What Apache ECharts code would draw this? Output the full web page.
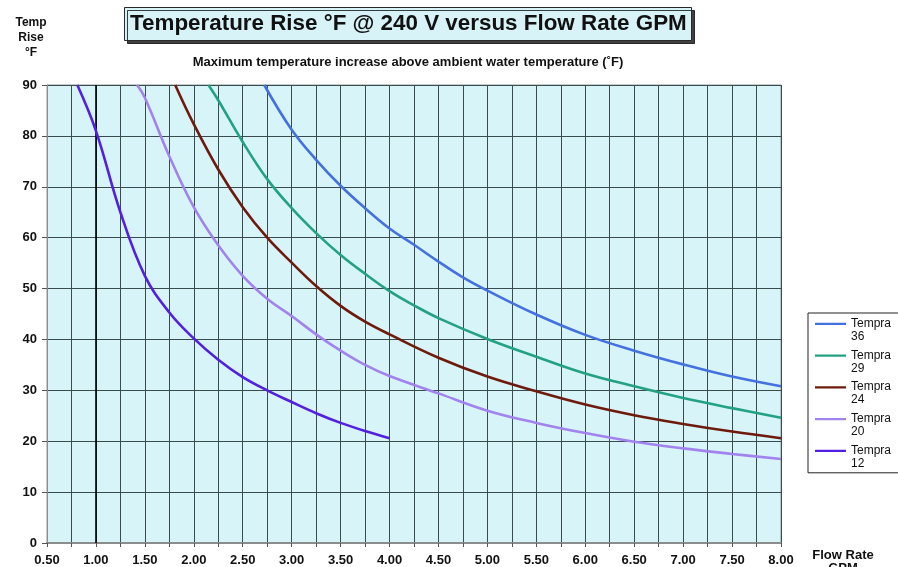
<!DOCTYPE html>
<html><head><meta charset="utf-8">
<script src="https://cdn.jsdelivr.net/npm/echarts@6/dist/echarts.min.js"></script>
<style>html,body{margin:0;padding:0;background:#fff}#c{width:898px;height:567px}</style>
</head><body><div id="c"></div>
<script>
// ---- data ----
const titleText = 'Temperature Rise °F @ 240 V versus Flow Rate GPM';
const subtitleText = 'Maximum temperature increase above ambient water temperature (˚F)';
const seriesNames = ['Tempra 36', 'Tempra 29', 'Tempra 24', 'Tempra 20', 'Tempra 12'];

const flow36 = [2.72, 3.0, 3.25, 3.5, 3.75, 4.0, 4.25, 4.5, 4.75, 5.0, 5.5, 6.0, 6.5, 7.0, 7.5, 8.0];
const rise36 = [90, 81.2, 75.3, 70.2, 65.8, 61.8, 58.6, 55.3, 52.2, 49.6, 44.9, 40.9, 37.8, 35.1, 32.7, 30.8];

const flow29 = [2.15, 2.25, 2.5, 2.75, 3.0, 3.25, 3.5, 3.75, 4.0, 4.25, 4.5, 5.0, 5.5, 6.0, 6.5, 7.0, 7.5, 8.0];
const rise29 = [90, 87, 78.8, 71.5, 65.8, 60.9, 56.6, 52.9, 49.5, 46.7, 44.2, 40.1, 36.6, 33.3, 30.8, 28.5, 26.5, 24.6];

const flow24 = [1.81, 2.0, 2.25, 2.5, 2.75, 3.0, 3.25, 3.5, 3.75, 4.0, 4.5, 5.0, 5.5, 6.0, 6.5, 7.0, 7.5, 8.0];
const rise24 = [90, 82.3, 73.4, 66, 60, 55.1, 50.5, 46.6, 43.5, 41, 36.4, 32.7, 29.8, 27.2, 25.1, 23.4, 21.9, 20.6];

const flow20 = [1.42, 1.5, 1.75, 2.0, 2.25, 2.5, 2.75, 3.0, 3.25, 3.5, 3.75, 4.0, 4.5, 5.0, 5.5, 6.0, 6.5, 7.0, 7.5, 8.0];
const rise20 = [90, 87.5, 76, 66, 58.5, 52.5, 48, 44.6, 41, 37.8, 35, 32.8, 29.4, 26, 23.6, 21.6, 19.9, 18.6, 17.5, 16.5];

const flow12 = [0.81, 1.0, 1.25, 1.5, 1.75, 2.0, 2.25, 2.5, 2.75, 3.0, 3.25, 3.5, 3.75, 4.0];
const rise12 = [90, 81, 65, 52.5, 45.3, 40.2, 36, 32.6, 30, 27.7, 25.5, 23.6, 22, 20.6];

const seriesColors = ['#4471e0', '#23a283', '#6e1a0c', '#a283ee', '#5320e2'];

// ---- chart ----
const FONT = '"Liberation Sans", Arial, sans-serif';
const pairs = (xs, ys) => xs.map((x, i) => [x, ys[i]]);
const allData = [pairs(flow36, rise36), pairs(flow29, rise29), pairs(flow24, rise24), pairs(flow20, rise20), pairs(flow12, rise12)];

const legendIcon = 'path://M0,0h0.01v0.01h-0.01zM0,5.4h33v2.4h-33zM32.99,25.99h0.01v0.01h-0.01z';

const chart = echarts.init(document.getElementById('c'), null, {renderer: 'canvas'});
const series = seriesNames.map((name, i) => ({
  name: name,
  type: 'line',
  data: allData[i],
  smooth: 0.4,
  showSymbol: false,
  symbol: 'none',
  clip: true,
  lineStyle: {color: seriesColors[i], width: 2.6},
  itemStyle: {color: seriesColors[i]},
  z: 5
}));
series[0].markLine = {
  silent: true, symbol: 'none', label: {show: false}, animation: false,
  lineStyle: {color: '#000', width: 1.6, type: 'solid'},
  data: [{xAxis: 1}]
};

chart.setOption({
  animation: false,
  backgroundColor: '#ffffff',
  textStyle: {fontFamily: FONT},
  title: [{
    text: titleText,
    left: 124, top: 7,
    padding: [6, 5, 6, 6],
    backgroundColor: '#d7f3f7',
    borderColor: '#2a2a2a', borderWidth: 1,
    shadowColor: 'rgba(0,0,0,0.75)', shadowOffsetX: 3, shadowOffsetY: 3, shadowBlur: 0,
    textStyle: {fontFamily: FONT, fontSize: 22.4, fontWeight: 'bold', color: '#111'}
  }],
  graphic: [
    {type: 'text', x: 408, y: 62, style: {text: subtitleText, font: 'bold 13px ' + FONT, fill: '#111', align: 'center', verticalAlign: 'middle'}},
    {type: 'text', x: 31, y: 38, style: {text: 'Temp\nRise\n°F', font: 'bold 12px ' + FONT, lineHeight: 15, fill: '#111', align: 'center', verticalAlign: 'middle'}},
    {type: 'text', x: 843, y: 562, style: {text: 'Flow Rate\nGPM', font: 'bold 13px ' + FONT, lineHeight: 13, fill: '#111', align: 'center', verticalAlign: 'middle'}}
  ],
  legend: {
    orient: 'vertical',
    left: 808, top: 313,
    padding: [4, 40, 3, 7],
    itemGap: 5.7,
    itemWidth: 31, itemHeight: 26,
    icon: legendIcon,
    itemStyle: {borderWidth: 0},
    backgroundColor: '#fff',
    borderColor: '#222', borderWidth: 1,
    data: seriesNames,
    formatter: n => n.replace(' ', '\n'),
    textStyle: {fontFamily: FONT, fontSize: 12, lineHeight: 13, color: '#111'}
  },
  grid: {left: 47, right: 117, top: 85, bottom: 24, show: true, backgroundColor: '#d7f4f8', borderColor: '#8a9a9a', borderWidth: 1},
  xAxis: {
    type: 'value', min: 0.5, max: 8, interval: 0.25,
    axisLine: {show: true, onZero: false, lineStyle: {color: '#8c8c8c', width: 2}},
    axisTick: {show: true, length: 4, lineStyle: {color: '#555'}},
    splitLine: {show: true, lineStyle: {color: '#3a4b4e', width: 1}},
    axisLabel: {
      margin: 11, fontSize: 13, fontWeight: 'bold', color: '#111', fontFamily: FONT,
      formatter: v => (Math.round(v * 100) % 50 === 0 ? v.toFixed(2) : '')
    }
  },
  yAxis: {
    type: 'value', min: 0, max: 90, interval: 10,
    axisLine: {show: true, lineStyle: {color: '#8c8c8c', width: 1}},
    axisTick: {show: true, length: 5, lineStyle: {color: '#555'}},
    splitLine: {show: true, lineStyle: {color: '#3a4b4e', width: 1}},
    axisLabel: {margin: 10, fontSize: 13, fontWeight: 'bold', color: '#111', fontFamily: FONT}
  },
  series: series
});
</script></body></html>
